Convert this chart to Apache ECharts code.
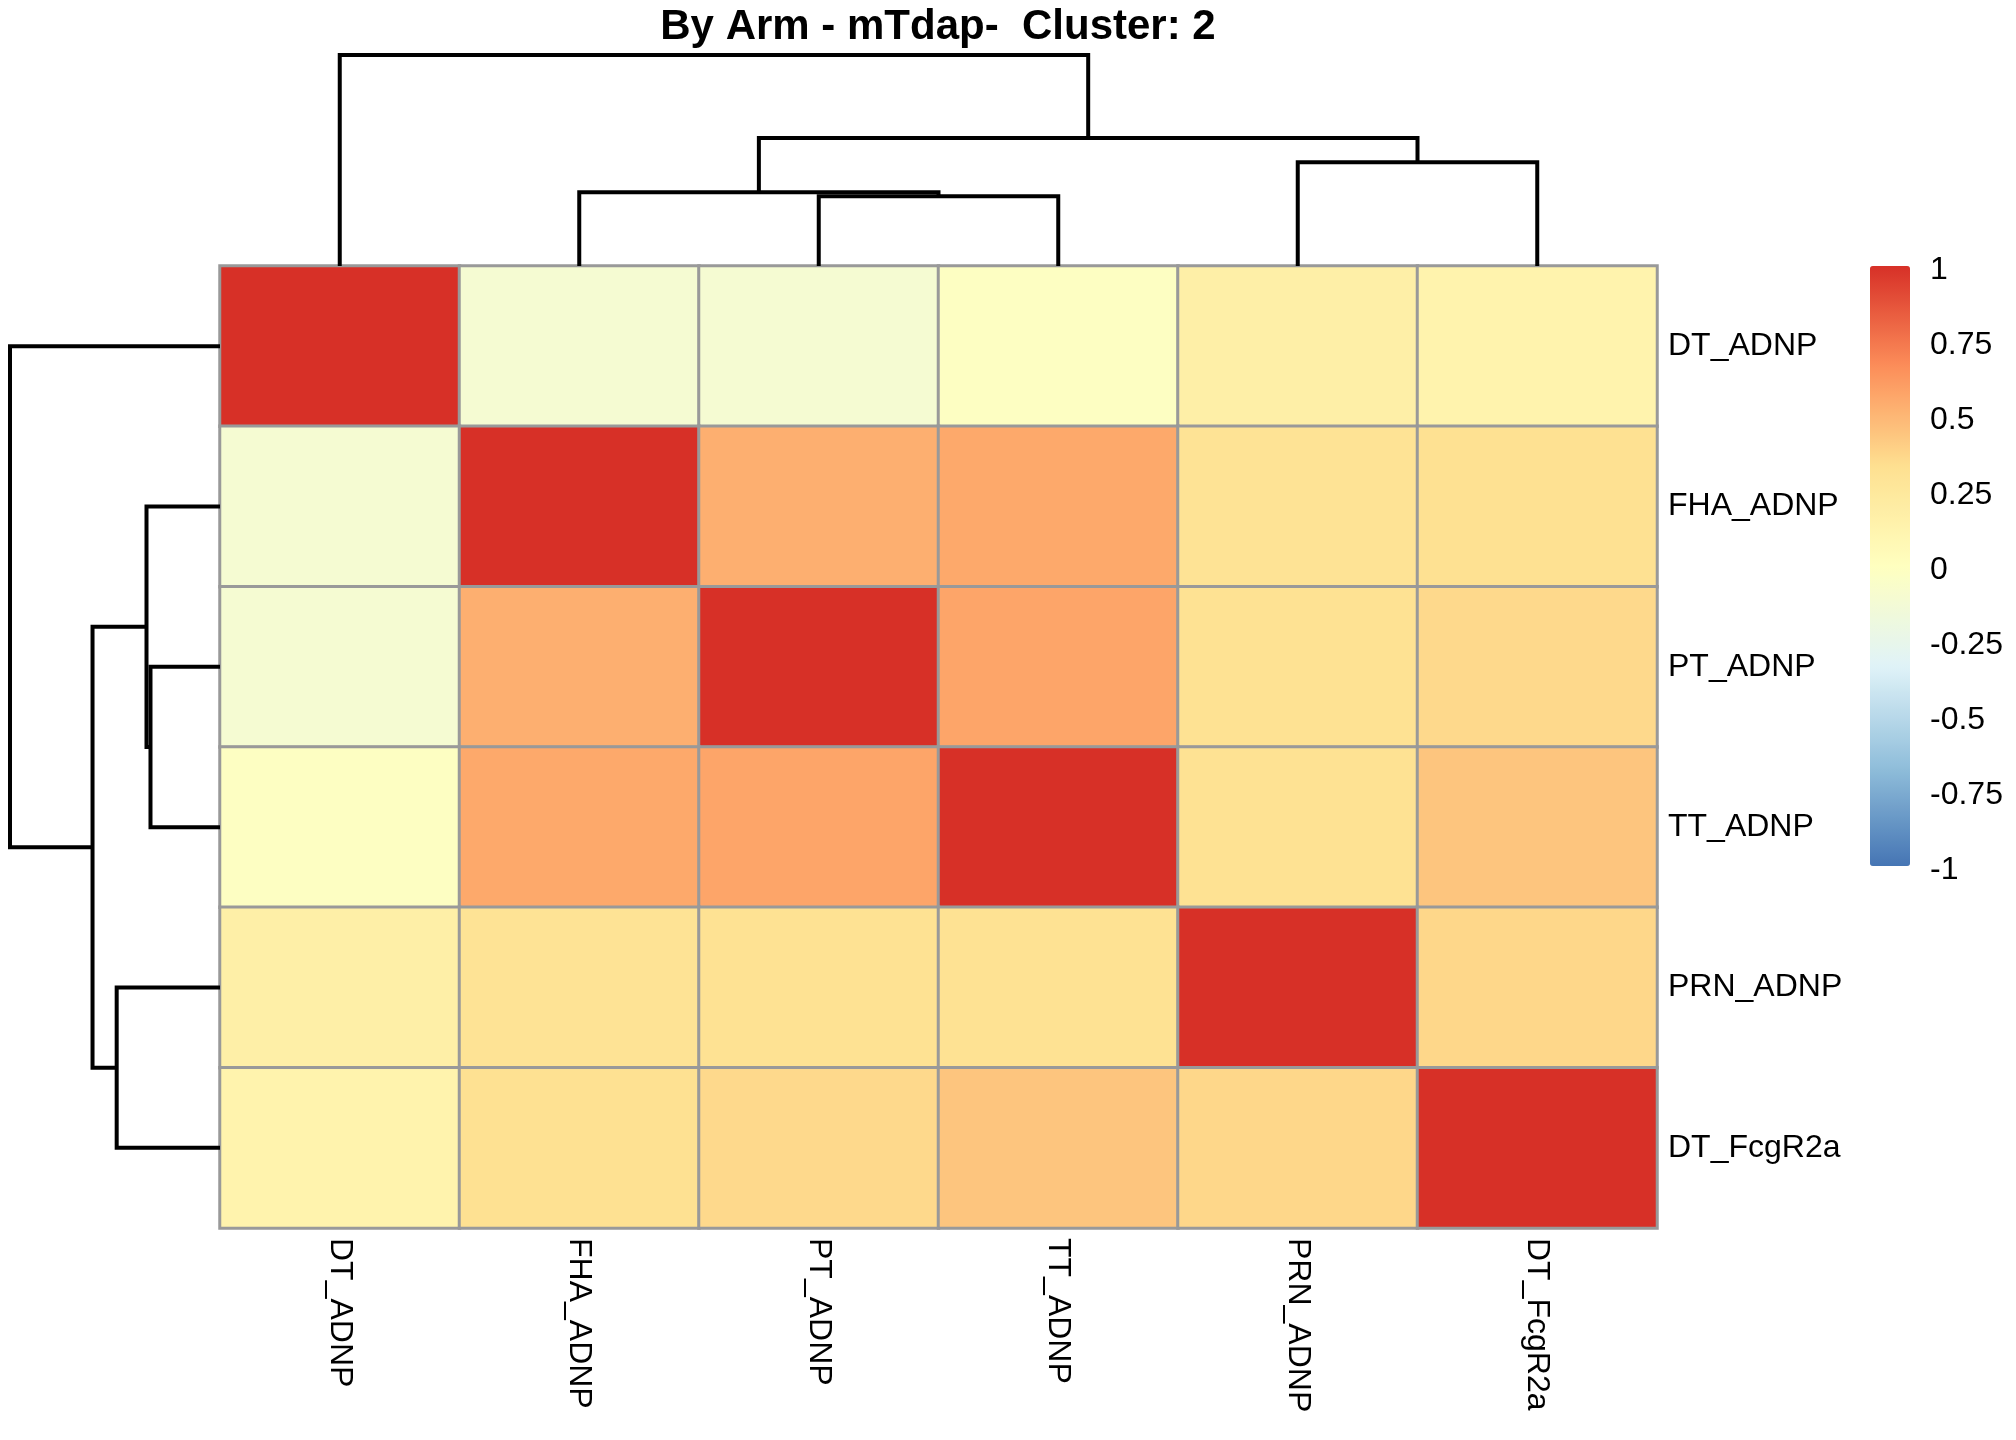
<!DOCTYPE html>
<html>
<head>
<meta charset="utf-8">
<script src="https://cdn.jsdelivr.net/npm/echarts@6/dist/echarts.min.js"></script>
<style>
html,body{margin:0;padding:0;background:#fff;}
#main{width:2016px;height:1440px;}
</style>
</head>
<body>
<div id="main"></div>
<script type="text/javascript">
	// 行列标签（聚类后的顺序）
	var labels = ["DT_ADNP","FHA_ADNP","PT_ADNP","TT_ADNP","PRN_ADNP","DT_FcgR2a"];

	// 相关系数矩阵，按行从上到下
	var rowDT    = [1.00, -0.11, -0.11, -0.02, 0.17, 0.13];
	var rowFHA   = [-0.11, 1.00, 0.53, 0.555, 0.30, 0.32];
	var rowPT    = [-0.11, 0.53, 1.00, 0.57, 0.31, 0.36];
	var rowTT    = [-0.02, 0.555, 0.57, 1.00, 0.31, 0.44];
	var rowPRN   = [0.17, 0.30, 0.31, 0.31, 1.00, 0.37];
	var rowFcg   = [0.13, 0.32, 0.36, 0.44, 0.37, 1.00];

	// 聚类合并：负数 = 叶子下标(-1 起)，正数 = 第几步合并(1 起)
	var mergeA = [-3, -2, -5, 2, -1];
	var mergeB = [-4, 1, -6, 3, 4];
	var mergeHeight = [0.331, 0.35, 0.492, 0.607, 1.0];

	// 色标刻度
	var colorTicks = [-1, -0.75, -0.5, -0.25, 0, 0.25, 0.5, 0.75, 1];
	var rdylbu = ["#4575B4","#91BFDB","#E0F3F8","#FFFFBF","#FEE090","#FC8D59","#D73027"];

	var matrix = [rowDT, rowFHA, rowPT, rowTT, rowPRN, rowFcg];
	var heatData = [];
	matrix.forEach(function(row, r){
		row.forEach(function(v, c){
			heatData.push([c, r, v]);
		});
	});

	// 由合并表算出树枝折线
	function buildDendro(){
		var pos = [], hgt = [], segs = [];
		function get(i){
			if(i < 0) return {p: -i - 1 + 0.5, h: 0};
			return {p: pos[i - 1], h: hgt[i - 1]};
		}
		mergeA.forEach(function(a, k){
			var A = get(a), B = get(mergeB[k]), h = mergeHeight[k];
			segs.push([[A.p, A.h], [A.p, h], [B.p, h], [B.p, B.h]]);
			pos.push((A.p + B.p) / 2);
			hgt.push(h);
		});
		return segs;
	}
	var segs = buildDendro();
	var topLines = segs.map(function(s){ return {coords: s}; });
	var leftLines = segs.map(function(s){
		return {coords: s.map(function(pt){ return [pt[1], pt[0]]; })};
	});

	var font = "'Liberation Sans', Arial, sans-serif";
	var myChart = echarts.init(document.getElementById("main"));

	var option = {
		backgroundColor: '#fff',
		animation: false,
		graphic: [{
			type: 'text',
			x: 938,
			y: 27,
			style: {
				text: 'By Arm - mTdap-  Cluster: 2',
				font: "bold 42px 'Liberation Sans', Arial, sans-serif",
				fill: '#000',
				textAlign: 'center',
				textVerticalAlign: 'middle'
			}
		}],
		grid: [
			{left: 220, top: 266, width: 1437, height: 962},
			{left: 220, top: 55, width: 1437, height: 211},
			{left: 10, top: 266, width: 210, height: 962},
			{left: 1880, top: 270, width: 40, height: 600}
		],
		xAxis: [
			{
				gridIndex: 0, type: 'category', data: labels, position: 'bottom',
				axisLine: {show: false}, axisTick: {show: false}, splitLine: {show: false},
				axisLabel: {rotate: -90, margin: 10, fontSize: 32, color: '#000', fontFamily: font}
			},
			{gridIndex: 1, type: 'value', min: 0, max: 6, show: false},
			{gridIndex: 2, type: 'value', min: 0, max: 1, inverse: true, show: false},
			{gridIndex: 3, type: 'value', min: 0, max: 1, show: false}
		],
		yAxis: [
			{
				gridIndex: 0, type: 'category', data: labels, inverse: true, position: 'right',
				axisLine: {show: false}, axisTick: {show: false}, splitLine: {show: false},
				axisLabel: {margin: 11, fontSize: 32, color: '#000', fontFamily: font}
			},
			{gridIndex: 1, type: 'value', min: 0, max: 1, show: false},
			{gridIndex: 2, type: 'value', min: 0, max: 6, inverse: true, show: false},
			{
				gridIndex: 3, type: 'value', min: colorTicks[0], max: colorTicks[colorTicks.length - 1],
				interval: 0.25, position: 'right',
				axisLine: {show: false}, axisTick: {show: false}, splitLine: {show: false},
				axisLabel: {margin: 10, fontSize: 32, color: '#000', fontFamily: font}
			}
		],
		visualMap: {
			type: 'continuous',
			seriesIndex: 0,
			min: -1,
			max: 1,
			calculable: false,
			orient: 'vertical',
			left: 1870,
			top: 266,
			padding: 0,
			itemWidth: 40,
			itemHeight: 600,
			text: null,
			showLabel: false,
			inRange: {color: rdylbu}
		},
		series: [
			{
				type: 'heatmap',
				xAxisIndex: 0,
				yAxisIndex: 0,
				data: heatData,
				itemStyle: {borderColor: '#999999', borderWidth: 3},
				emphasis: {disabled: true}
			},
			{
				type: 'lines',
				coordinateSystem: 'cartesian2d',
				xAxisIndex: 1,
				yAxisIndex: 1,
				polyline: true,
				silent: true,
				lineStyle: {color: '#000', width: 4, opacity: 1},
				data: topLines
			},
			{
				type: 'lines',
				coordinateSystem: 'cartesian2d',
				xAxisIndex: 2,
				yAxisIndex: 2,
				polyline: true,
				silent: true,
				lineStyle: {color: '#000', width: 4, opacity: 1},
				data: leftLines
			}
		]
	};

	myChart.setOption(option);
</script>
</body>
</html>
